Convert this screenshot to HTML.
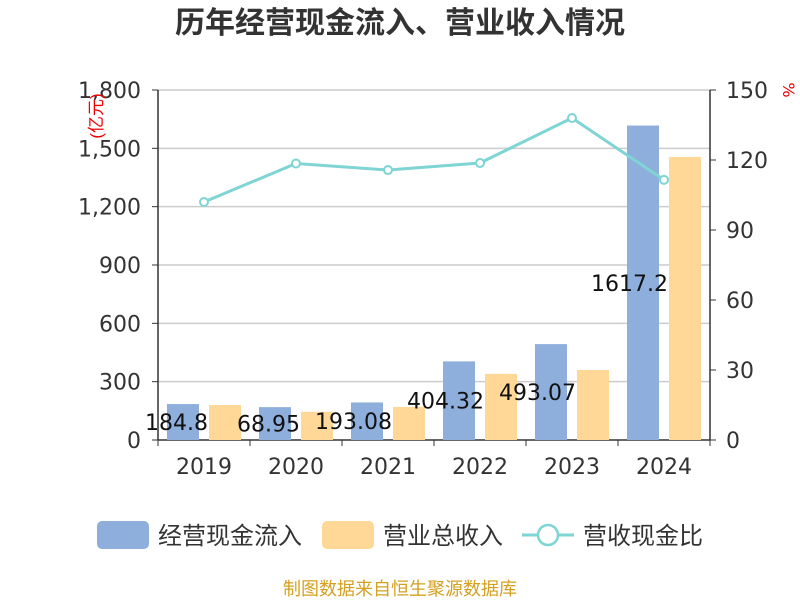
<!DOCTYPE html>
<html><head><meta charset="utf-8"><style>
body{margin:0;background:#fff;}
svg text{font-family:"DejaVu Sans","Noto Sans CJK SC",sans-serif;}
svg text.cjk{font-family:"Liberation Sans","Noto Sans CJK SC",sans-serif;}
</style></head><body>
<svg id="c" width="800" height="600">
<text class="cjk" x="400" y="33" text-anchor="middle" font-size="30" font-weight="bold" fill="#333">历年经营现金流入、营业收入情况</text>
<g id="grid"></g><g id="bars"></g><g id="axes"></g><g id="line"></g><g id="labels"></g>
<text class="cjk" transform="translate(102,116) rotate(-90)" text-anchor="middle" font-size="17" fill="#e00">(亿元)</text>
<text transform="translate(783,90) rotate(90)" text-anchor="middle" font-size="16" fill="#e00">%</text>
<g>
<rect x="97" y="521" width="52" height="28" rx="5" fill="#8eaedc"/>
<text class="cjk" x="158" y="544" font-size="24" fill="#333">经营现金流入</text>
<rect x="322" y="521" width="52" height="28" rx="5" fill="#ffd796"/>
<text class="cjk" x="383" y="544" font-size="24" fill="#333">营业总收入</text>
<line x1="522" y1="535" x2="574" y2="535" stroke="#7fd4d4" stroke-width="3"/>
<circle cx="548" cy="535" r="10" fill="#fff" stroke="#7fd4d4" stroke-width="2.5"/>
<text class="cjk" x="583" y="544" font-size="24" fill="#333">营收现金比</text>
</g>
<text class="cjk" x="400" y="595" text-anchor="middle" font-size="18" fill="#d4a020">制图数据来自恒生聚源数据库</text>
</svg>
<script>
const categories=["2019","2020","2021","2022","2023","2024"];
const cashIn=[184.8,168.95,193.08,404.32,493.07,1617.2];
const revenue=[180,145,170,340,360,1456];
const ratio=[102,118.5,115.7,118.7,138,111.5];
const cashLabels=["184.8","68.95","193.08","404.32","493.07","1617.2"];
const leftTicks=[0,300,600,900,1200,1500,1800];
const rightTicks=[0,30,60,90,120,150];
const NS="http://www.w3.org/2000/svg";
const X0=158,X1=710,Y0=440,Y1=90;
const band=(X1-X0)/categories.length;
const xc=i=>X0+band*(i+0.5);
const yl=v=>Y0-(v/1800)*(Y0-Y1);
const yr=v=>Y0-(v/150)*(Y0-Y1);
function mk(p,tag,a){const e=document.createElementNS(NS,tag);for(const k in a)e.setAttribute(k,a[k]);document.getElementById(p).appendChild(e);return e;}
leftTicks.forEach(t=>{
 const g=mk("grid","line",{x1:X0,x2:X1,y1:yl(t),y2:yl(t),stroke:t?"#ccc":"#333","stroke-width":1.5});
 
 
 mk("axes","line",{x1:X0-6,x2:X0,y1:yl(t),y2:yl(t),stroke:"#333"});
 const tx=mk("axes","text",{x:X0-17,y:yl(t)+8,"text-anchor":"end","font-size":22,fill:"#333"});
 tx.textContent=t.toLocaleString("en-US");
 
 
});
rightTicks.forEach(t=>{
 mk("axes","line",{x1:X1,x2:X1+6,y1:yr(t),y2:yr(t),stroke:"#333"});
 const tx=mk("axes","text",{x:X1+16,y:yr(t)+8,"font-size":22,fill:"#333"});
 tx.textContent=t;
 
 
});
mk("axes","line",{x1:X0,x2:X0,y1:Y1,y2:Y0,stroke:"#333","stroke-width":1.5});
mk("axes","line",{x1:X1,x2:X1,y1:Y1,y2:Y0,stroke:"#333","stroke-width":1.5});
for(let i=0;i<=categories.length;i++)mk("axes","line",{x1:X0+band*i,x2:X0+band*i,y1:Y0,y2:Y0+6,stroke:"#333"});
categories.forEach((c,i)=>{
 const tx=mk("axes","text",{x:xc(i),y:474,"text-anchor":"middle","font-size":22,fill:"#333"});
 tx.textContent=c;
 
 
 const b=mk("bars","rect",{x:xc(i)-37,width:32,y:yl(cashIn[i]),height:Y0-yl(cashIn[i]),fill:"#8eaedc"});
 
 
 const r=mk("bars","rect",{x:xc(i)+5,width:32,y:yl(revenue[i]),height:Y0-yl(revenue[i]),fill:"#ffd796"});
 
 
 const l=mk("labels","text",{x:xc(i)+4,y:(yl(cashIn[i])+Y0)/2+8,"text-anchor":"end","font-size":22,fill:"#111"});
 l.textContent=cashLabels[i];
 
 
});
const pl=mk("line","polyline",{points:ratio.map((v,i)=>xc(i)+","+yr(v)).join(" "),fill:"none",stroke:"#7fd4d4","stroke-width":3});


ratio.forEach((v,i)=>{
 const p=mk("line","circle",{cx:xc(i),cy:yr(v),r:4,fill:"#fff",stroke:"#7fd4d4","stroke-width":2});
 
 
});
</script>
</body></html>
